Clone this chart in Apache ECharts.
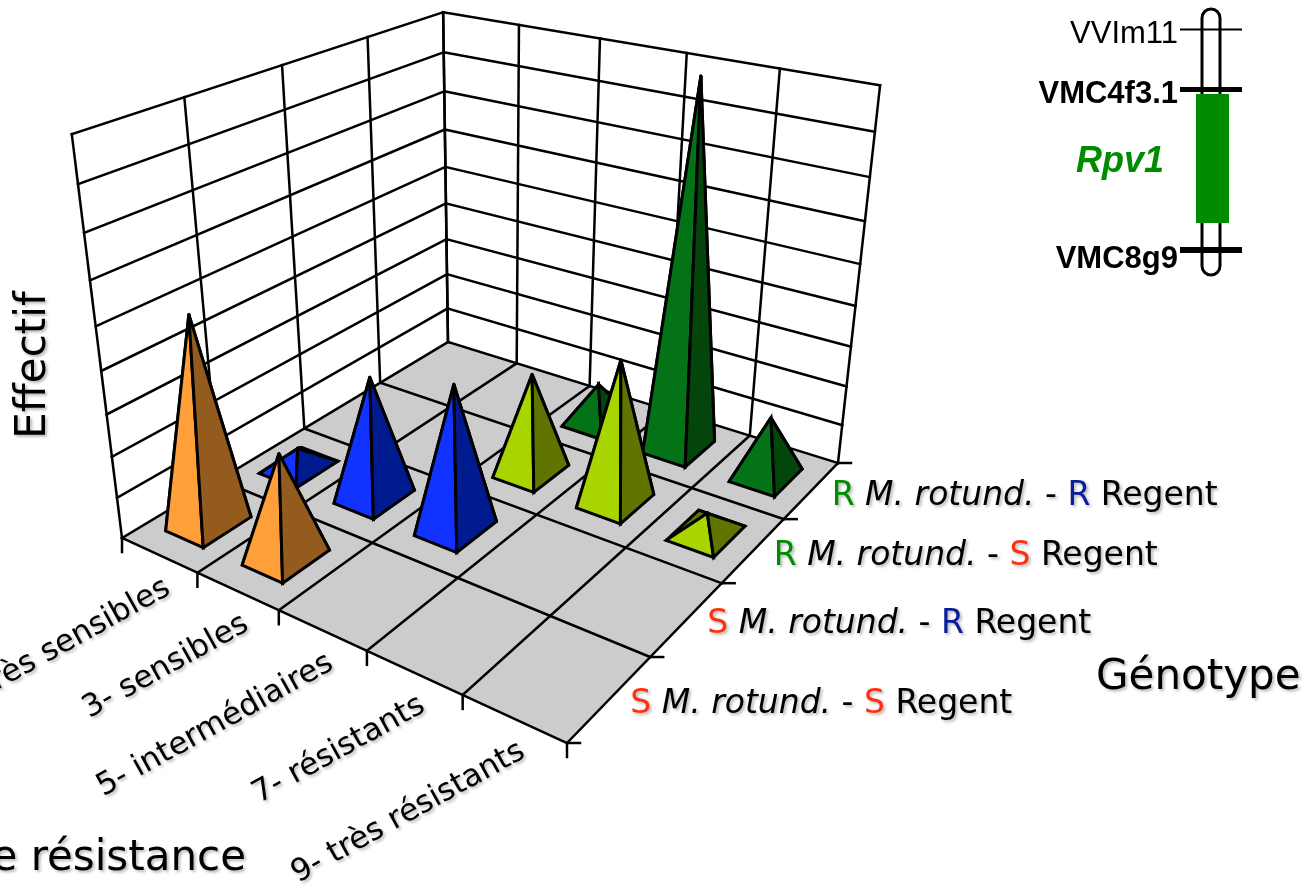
<!DOCTYPE html>
<html>
<head>
<meta charset="utf-8">
<style>
html,body{margin:0;padding:0;background:#fff;overflow:hidden}
#myChart{width:1307px;height:892px}
</style>
<script src="https://cdn.jsdelivr.net/npm/echarts@6/dist/echarts.min.js"></script>
</head>
<body>
<div id="myChart"></div>
<script>
var resistanceClasses = ['1- très sensibles','3- sensibles','5- intermédiaires','7- résistants','9- très résistants'];
var genotypes = [
	'{red|S} {it|M. rotund.} {txt|-} {red|S} {txt|Regent}',
	'{red|S} {it|M. rotund.} {txt|-} {blue|R} {txt|Regent}',
	'{green|R} {it|M. rotund.} {txt|-} {red|S} {txt|Regent}',
	'{green|R} {it|M. rotund.} {txt|-} {blue|R} {txt|Regent}'
];
// effectifs par classe, une liste par genotype
var valuesSS = [10,5,0,0,0];
var valuesSR = [1,6,7,0,0];
var valuesRS = [0,0,5,7,1];
var valuesRR = [0,0,2,18,3];
var zMax = 18;
var zStep = 2;
var markers = ['VVIm11','VMC4f3.1','VMC8g9'];

var nx = resistanceClasses.length, ny = genotypes.length;
var rows = [valuesSS,valuesSR,valuesRS,valuesRR];
var faceColors = [['#FF9F3A','#935B1E'],['#1232FF','#001A90'],['#A8D400','#5F7500'],['#047216','#03450A']];

// calage de la vue : coins du sol et hauts des murs, en pixels
var floor = [[122,538],[567,743],[838,463],[448,342]];
var wallTop = {left:[72,134], back:[443,11], right:[880,87]};

var sx = floor[0][0]-floor[1][0]+floor[2][0]-floor[3][0];
var sy = floor[0][1]-floor[1][1]+floor[2][1]-floor[3][1];
var dx1 = floor[1][0]-floor[2][0], dx2 = floor[3][0]-floor[2][0];
var dy1 = floor[1][1]-floor[2][1], dy2 = floor[3][1]-floor[2][1];
var den = dx1*dy2-dx2*dy1;
var g = (sx*dy2-dx2*sy)/den, h = (dx1*sy-sx*dy1)/den;
var a = floor[1][0]-floor[0][0]+g*floor[1][0], b = floor[3][0]-floor[0][0]+h*floor[3][0], c = floor[0][0];
var d = floor[1][1]-floor[0][1]+g*floor[1][1], e = floor[3][1]-floor[0][1]+h*floor[3][1], f = floor[0][1];

// colonne verticale de la projection, moindres carres sur les 3 hauts de mur
var tops = [[0,0,wallTop.left],[0,1,wallTop.back],[1,1,wallTop.right]];
var us=0,vs=0,rs=0,ss=0;
var eqs = tops.map(function(t){
	var X=a*t[0]+b*t[1]+c, Y=d*t[0]+e*t[1]+f, W=g*t[0]+h*t[1]+1;
	var u=t[2][0], v=t[2][1], r=u*W-X, s=v*W-Y;
	us+=u/3;vs+=v/3;rs+=r/3;ss+=s/3;
	return [u,v,r,s];
});
var nn=0,dd=0;
eqs.forEach(function(q){
	nn+=(q[0]-us)*(q[2]-rs)+(q[1]-vs)*(q[3]-ss);
	dd+=(q[0]-us)*(q[0]-us)+(q[1]-vs)*(q[1]-vs);
});
var C=-nn/dd, A=rs+C*us, B=ss+C*vs;

var project = function(x,y,z){
	var s=x/nx, t=y/ny, k=z/zMax;
	var W=g*s+h*t+1+C*k;
	return [(a*s+b*t+c+A*k)/W,(d*s+e*t+f+B*k)/W];
};

var line = function(p,q,w){
	return {type:'line',shape:{x1:p[0],y1:p[1],x2:q[0],y2:q[1]},style:{stroke:'#000',lineWidth:w||2.5,lineCap:'square'},silent:true};
};
var poly = function(pts,fill,join){
	return {type:'polygon',shape:{points:pts},style:{fill:fill,stroke:'#000',lineWidth:3,lineJoin:join,miterLimit:4},silent:true};
};

var renderBox = function(){
	var ch=[],i,z;
	ch.push({type:'polygon',shape:{points:[project(0,0,0),project(nx,0,0),project(nx,ny,0),project(0,ny,0)]},style:{fill:'#CCCCCC'},silent:true});
	for(z=zStep;z<=zMax;z+=zStep){
		ch.push(line(project(0,0,z),project(0,ny,z)));
		ch.push(line(project(0,ny,z),project(nx,ny,z)));
	}
	for(i=0;i<=ny;i++){
		ch.push(line(project(0,i,0),project(0,i,zMax)));
		ch.push(line(project(0,i,0),project(nx,i,0)));
		var p=project(nx,i,0);
		ch.push(line(p,[p[0]+13,p[1]]));
	}
	for(i=0;i<=nx;i++){
		ch.push(line(project(i,ny,0),project(i,ny,zMax)));
		ch.push(line(project(i,0,0),project(i,ny,0)));
		var q=project(i,0,0);
		ch.push(line(q,[q[0],q[1]+14]));
	}
	return {type:'group',children:ch};
};

var pyramidData = [];
for(var iy=ny-1;iy>=0;iy--){
	for(var ix=0;ix<nx;ix++){
		if(rows[iy][ix]>0) pyramidData.push([ix,iy,rows[iy][ix]]);
	}
}
var inset = 0.25;
var renderPyramid = function(params,api){
	var ix=api.value(0), iy=api.value(1), v=api.value(2);
	var x0=ix+inset,x1=ix+1-inset,y0=iy+inset,y1=iy+1-inset;
	var top=project(ix+.5,iy+.5,v);
	var p00=project(x0,y0,0),p10=project(x1,y0,0),p11=project(x1,y1,0),p01=project(x0,y1,0);
	var col=faceColors[iy];
	return {type:'group',children:[
		poly([p01,p11,top],col[0],'round'),
		poly([p00,p01,top],col[1],'round'),
		poly([p00,p10,top],col[0],'miter'),
		poly([p10,p11,top],col[1],'miter')
	]};
};

var shadow = {textShadowColor:'rgba(0,0,0,0.28)',textShadowBlur:3,textShadowOffsetX:2,textShadowOffsetY:2};
var styled = function(o){
	for(var k in shadow) o[k]=shadow[k];
	return o;
};
var fontMain = '"DejaVu Sans"';
var rich = {
	red:styled({fill:'#FF3010',font:'33px '+fontMain}),
	blue:styled({fill:'#0A1E9C',font:'33px '+fontMain}),
	green:styled({fill:'#008C00',font:'33px '+fontMain}),
	it:styled({fill:'#000',font:'italic 33px '+fontMain}),
	txt:styled({fill:'#000',font:'33px '+fontMain})
};
var renderClass = function(params,api){
	var p=project(api.value(0)+.5,0,0);
	return {type:'text',x:p[0]+9,y:p[1]+31,rotation:29*Math.PI/180,silent:true,
		style:styled({text:resistanceClasses[api.value(0)],fill:'#000',font:'31px '+fontMain,align:'right',verticalAlign:'middle'})};
};
var renderGeno = function(params,api){
	var p=project(nx,api.value(0)+.5,0);
	return {type:'text',x:p[0]+20,y:p[1]+6,silent:true,
		style:styled({text:genotypes[api.value(0)],rich:rich,fill:'#000',font:'33px '+fontMain,align:'left',verticalAlign:'middle'})};
};

var titleText = function(txt,x,y,align,rot){
	return {type:'text',x:x,y:y,rotation:rot||0,silent:true,
		style:styled({text:txt,fill:'#000',font:'42px '+fontMain,align:align,verticalAlign:'middle'})};
};
var markerText = function(txt,y,bold){
	return {type:'text',x:1178,y:y,silent:true,
		style:{text:txt,fill:'#000',font:(bold?'bold ':'')+'31px "Liberation Sans"',align:'right',verticalAlign:'middle'}};
};
var markerLine = function(y,w){
	return {type:'line',shape:{x1:1180,y1:y,x2:1242,y2:y},style:{stroke:'#000',lineWidth:w},silent:true};
};

var myChart = echarts.init(document.getElementById('myChart'),null,{renderer:'canvas'});
var option = {
	animation:false,
	backgroundColor:'#fff',
	graphic:[
		titleText('Effectif',34,365,'center',Math.PI/2),
		titleText('Génotype',1096,678,'left'),
		titleText('Classe de résistance',246,859,'right'),
		{type:'rect',shape:{x:1202,y:9,width:18,height:266,r:9},style:{fill:'#fff',stroke:'#000',lineWidth:3},silent:true},
		markerLine(29.5,2),
		markerLine(89.5,5),
		markerLine(250,6),
		{type:'rect',shape:{x:1196,y:94,width:33,height:129},style:{fill:'#008C00'},silent:true},
		markerText(markers[0],34,false),
		markerText(markers[1],94,true),
		markerText(markers[2],259,true),
		{type:'text',x:1120,y:162,silent:true,style:{text:'Rpv1',fill:'#008C00',font:'italic bold 36px "Liberation Sans"',align:'center',verticalAlign:'middle'}}
	],
	series:[
		{type:'custom',coordinateSystem:'none',data:[[0]],renderItem:renderBox,silent:true,z:1},
		{type:'custom',coordinateSystem:'none',data:pyramidData,renderItem:renderPyramid,silent:true,z:2},
		{type:'custom',coordinateSystem:'none',data:resistanceClasses.map(function(n,i){return [i];}),renderItem:renderClass,silent:true,z:3},
		{type:'custom',coordinateSystem:'none',data:genotypes.map(function(n,i){return [i];}),renderItem:renderGeno,silent:true,z:3}
	]
};
myChart.setOption(option);
</script>
</body>
</html>
